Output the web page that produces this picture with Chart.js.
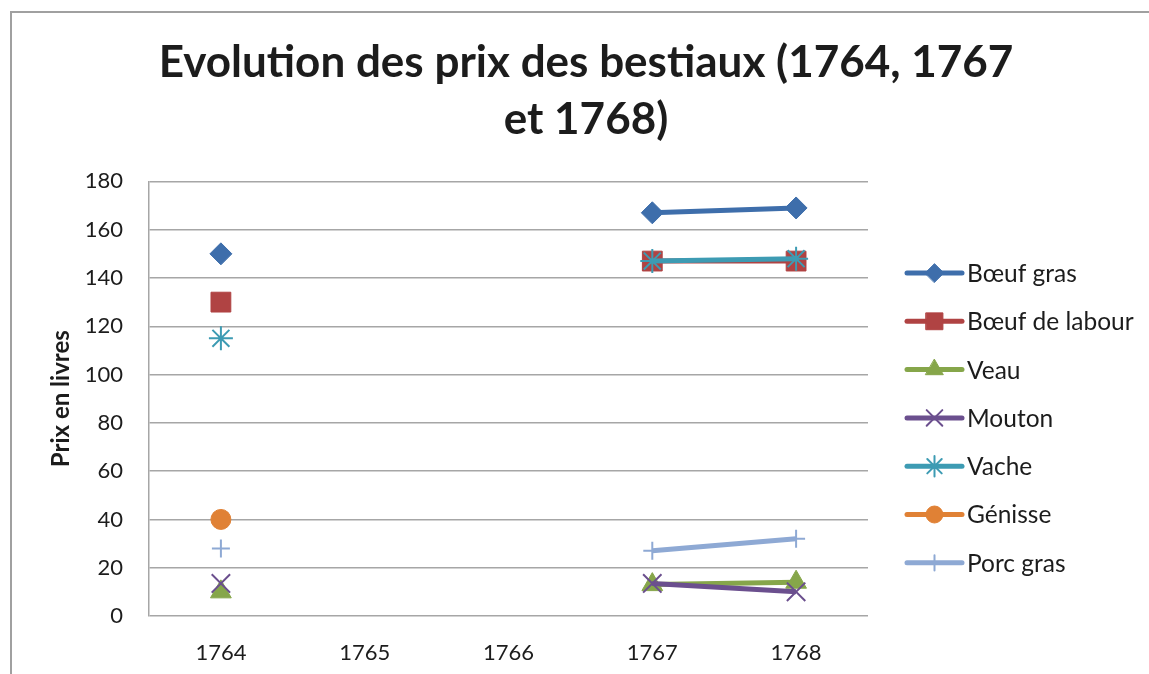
<!DOCTYPE html>
<html>
<head>
<meta charset="utf-8">
<script src="https://cdn.jsdelivr.net/npm/chart.js@4/dist/chart.umd.min.js"></script>
<style>
    html, body { margin: 0; padding: 0; background: #fff; overflow: hidden; }
    #wrap { position: relative; width: 1149px; height: 674px; }
    #frame {
        position: absolute; left: 10px; top: 11px; width: 1300px; height: 800px;
        border-left: 2px solid #a0a0a0; border-top: 2px solid #a0a0a0;
        pointer-events: none;
    }
</style>
</head>
<body>
<div id="wrap">
    <canvas id="chart" width="1149" height="674"></canvas>
    <div id="frame"></div>
</div>
<script>
// chart values
const years = ['1764', '1765', '1766', '1767', '1768'];
const boeufGras = [150, null, null, 167, 169];
const boeufLabour = [130, null, null, 147, 147];
const veau = [10, null, null, 13, 14];
const mouton = [13.5, null, null, 13.5, 10];
const vache = [115, null, null, 147, 148];
const genisse = [40, null, null, null, null];
const porcGras = [28, null, null, 27, 32];

const yMin = 0, yMax = 180, yStep = 20;
const titleLines = ['Evolution des prix des bestiaux (1764, 1767', 'et 1768)'];
const yTitle = 'Prix en livres';

const FONT = 'Lato, "Open Sans", sans-serif';
const TEXT = '#1c1c1c';
const GRID = '#a6a6a6';

// one series -> one dataset
function series(label, data, color, style, radius, pointBorder, filled) {
    return {
        label: label,
        data: data,
        borderColor: color,
        backgroundColor: color,
        borderWidth: 5,
        pointStyle: style,
        pointRadius: radius,
        pointHoverRadius: radius,
        pointBorderColor: color,
        pointBackgroundColor: filled ? color : 'transparent',
        pointBorderWidth: pointBorder,
        spanGaps: false,
        tension: 0
    };
}

const datasets = [
    series('Bœuf gras', boeufGras, '#3e6eab', 'rectRot', 11, 1, true),
    series('Bœuf de labour', boeufLabour, '#b04343', 'rect', 14, 1, true),
    series('Veau', veau, '#86a64a', 'triangle', 12, 1, true),
    series('Mouton', mouton, '#6b4f8e', 'crossRot', 13, 2, false),
    series('Vache', vache, '#3d9bb3', 'star', 12, 2, false),
    series('Génisse', genisse, '#e08135', 'circle', 10, 1, true),
    series('Porc gras', porcGras, '#8ea9d4', 'cross', 9, 2, false)
];
// later series are painted on top, like the original
datasets.forEach((ds, i) => { ds.order = datasets.length - i; });

// legend drawn by hand: line with the marker in its middle
const sideLegend = {
    id: 'sideLegend',
    afterDraw(chart) {
        const ctx = chart.ctx;
        const x0 = 907, x1 = 962, top = 273, gap = 48.3;
        ctx.save();
        chart.data.datasets.forEach((ds, i) => {
            const y = top + i * gap;
            ctx.strokeStyle = ds.borderColor;
            ctx.lineWidth = 5;
            ctx.lineCap = 'round';
            ctx.beginPath();
            ctx.moveTo(x0, y);
            ctx.lineTo(x1, y);
            ctx.stroke();
            ctx.fillStyle = ds.pointBackgroundColor;
            ctx.strokeStyle = ds.pointBorderColor;
            ctx.lineWidth = ds.pointBorderWidth;
            Chart.helpers.drawPoint(ctx, {
                pointStyle: ds.pointStyle,
                radius: ds.pointRadius * 0.85,
                rotation: 0,
                borderWidth: ds.pointBorderWidth
            }, (x0 + x1) / 2, y);
            ctx.fillStyle = TEXT;
            ctx.font = '24.5px ' + FONT;
            ctx.textBaseline = 'middle';
            ctx.textAlign = 'left';
            ctx.fillText(ds.label, 967, y + 1);
        });
        ctx.restore();
    }
};

const ctx = document.getElementById('chart').getContext('2d');
new Chart(ctx, {
    type: 'line',
    data: { labels: years, datasets: datasets },
    plugins: [sideLegend],
    options: {
        responsive: false,
        animation: false,
        layout: { padding: { left: 23, right: 0, top: 0, bottom: 0 } },
        plugins: {
            legend: { display: false },
            tooltip: { enabled: false },
            title: {
                display: true,
                text: titleLines,
                color: TEXT,
                font: { family: FONT, size: 44, weight: 'bold', lineHeight: 1.3 },
                padding: { top: 34, bottom: 33 }
            }
        },
        scales: {
            x: {
                offset: true,
                grid: { display: false, drawTicks: false },
                border: { display: false },
                ticks: { color: TEXT, padding: 24, font: { family: FONT, size: 22 } },
                afterFit: s => { s.height = 58; }
            },
            y: {
                min: yMin,
                max: yMax,
                ticks: { stepSize: yStep, color: TEXT, padding: 26, font: { family: FONT, size: 22 } },
                grid: { color: GRID, lineWidth: 1.5, drawTicks: false },
                border: { display: true, color: GRID, width: 1.5 },
                title: {
                    display: true,
                    text: yTitle,
                    color: TEXT,
                    font: { family: FONT, size: 24, weight: 'bold' },
                    padding: { top: 24, bottom: 0 }
                },
                afterFit: s => { s.width = 126; }
            },
            side: {
                position: 'right',
                display: true,
                ticks: { display: false },
                grid: { display: false },
                border: { display: false },
                afterFit: s => { s.width = 281; }
            }
        }
    }
});
</script>
</body>
</html>
